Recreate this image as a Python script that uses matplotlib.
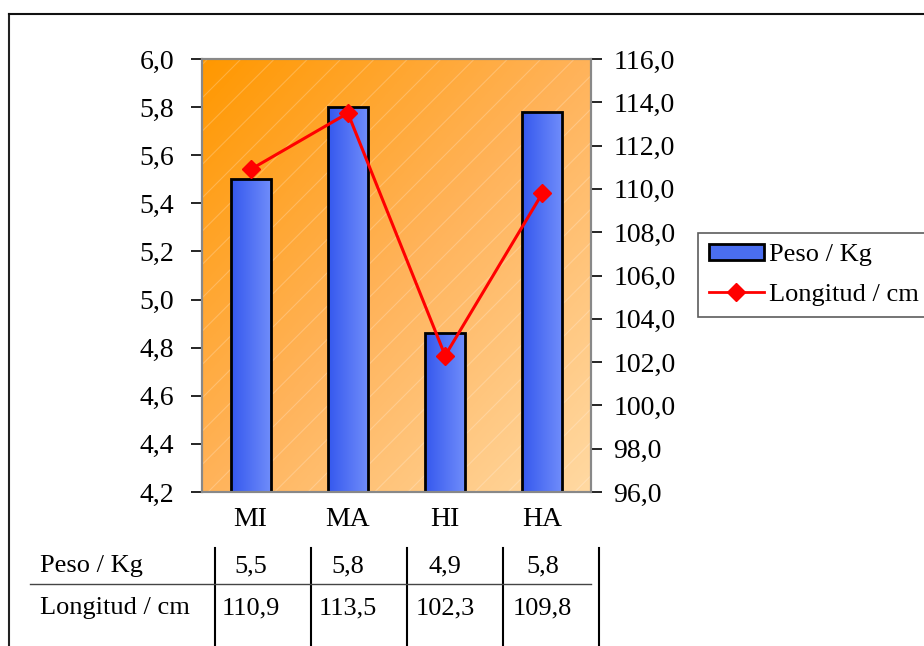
import matplotlib
matplotlib.use("Agg")
import matplotlib.pyplot as plt
import numpy as np
from matplotlib.lines import Line2D
from matplotlib.patches import Rectangle
from matplotlib.colors import LinearSegmentedColormap
from matplotlib.transforms import blended_transform_factory

categories = ["MI", "MA", "HI", "HA"]
peso = [5.5, 5.8, 4.86, 5.78]
longitud = [110.9, 113.5, 102.3, 109.8]
peso_label = "Peso / Kg"
long_label = "Longitud / cm"

plt.rcParams['font.family'] = ['Liberation Serif', 'DejaVu Serif']
plt.rcParams['hatch.linewidth'] = 0.8
FS = 20
FS_SMALL = 19

W, H = 924, 646
fig = plt.figure(figsize=(W / 100, H / 100), dpi=100)

def fx(px):
    return px / W

def fy(py):
    return 1 - py / H

# outer frame (only left and top visible)
fig.add_artist(Line2D([fx(9), fx(9)], [fy(14), 0], color='#222222', lw=1.5))
fig.add_artist(Line2D([fx(9), 1], [fy(14), fy(14)], color='#111111', lw=1.5))

ax = fig.add_axes([fx(202), fy(492), fx(591 - 202), (492 - 59) / H])
ax2 = ax.twinx()

# gradient background, orange top-left -> light peach bottom-right
xs = np.linspace(0, 1, 300)
ys = np.linspace(0, 1, 300)
gx, gy = np.meshgrid(xs, ys)
grad = (gx + gy) / 2
bg = LinearSegmentedColormap.from_list("bg", ["#ff9800", "#ffb35a", "#ffd9a2"])
ax.imshow(grad, extent=[0, 1, 0, 1], transform=ax.transAxes, cmap=bg,
          aspect='auto', zorder=0, origin='upper')
ax.add_patch(Rectangle((0, 0), 1, 1, transform=ax.transAxes, fill=False,
                       hatch='/', edgecolor=(1, 1, 1, 0.22), lw=0, zorder=0.5))

x = np.arange(len(categories))
bars = ax.bar(x, peso, width=0.41, color='#4a6ef0', edgecolor='black',
              linewidth=2, zorder=2)
barcm = LinearSegmentedColormap.from_list("bar", ["#3558ee", "#6f8cfa"])
for b in bars:
    b.set_facecolor('none')
    x0 = b.get_x()
    w, h = b.get_width(), b.get_height()
    im = ax.imshow(np.linspace(0, 1, 100).reshape(1, -1), cmap=barcm, aspect='auto',
                   extent=[x0, x0 + w, 4.2, h], zorder=1.5)
    im.set_clip_path(b)

ax.set_xlim(-0.5, 3.5)
ax.set_ylim(4.2, 6.0)
lt = np.arange(4.2, 6.01, 0.2)
ax.set_yticks(lt)
ax.set_yticklabels([f"{v:.1f}".replace('.', ',') for v in lt])
ax.set_xticks(x)
ax.set_xticklabels(categories)
ax.tick_params(axis='x', length=0, labelsize=FS, pad=11)
ax.tick_params(axis='y', direction='out', length=8, width=1.2, labelsize=FS, pad=12)

ax2.plot(x, longitud, color='#ff0000', lw=2.2, marker='D', markersize=9, zorder=3)
ax2.set_ylim(96, 116)
rt = np.arange(96, 116.1, 2)
ax2.set_yticks(rt)
ax2.set_yticklabels([f"{v:.1f}".replace('.', ',') for v in rt])
ax2.tick_params(axis='y', direction='out', length=8, width=1.2, labelsize=FS, pad=8)

for a in (ax, ax2):
    for s in a.spines.values():
        s.set_color('#888888')
        s.set_linewidth(1.5)

# legend
leg_handles = [Rectangle((0, 0), 1, 1, facecolor='#4a6ef0', edgecolor='black', lw=2),
               Line2D([], [], color='#ff0000', lw=2, marker='D', markersize=9)]
leg = fig.legend(leg_handles, [peso_label, long_label], loc='upper left',
                 bbox_to_anchor=(fx(698), fy(233)), borderaxespad=0,
                 fontsize=FS_SMALL, frameon=True, fancybox=False, edgecolor='#333333',
                 handlelength=2.1, handleheight=0.6, borderpad=0.4,
                 labelspacing=0.65, handletextpad=0.2)
leg.get_frame().set_linewidth(1.2)

# data table
col_lines = [215, 311, 407, 503, 599]
row_y = [566, 608]
tr = blended_transform_factory(ax.transData, fig.transFigure)
for cx in col_lines:
    fig.add_artist(Line2D([fx(cx), fx(cx)], [fy(548), 0], color='black', lw=1.5))
fig.add_artist(Line2D([fx(30), fx(591)], [fy(584), fy(584)], color='#444444', lw=1))
fig.text(fx(40), fy(row_y[0]), peso_label, fontsize=FS_SMALL, va='center', ha='left')
fig.text(fx(40), fy(row_y[1]), long_label, fontsize=FS_SMALL, va='center', ha='left')
for xi, p, l in zip(x, peso, longitud):
    fig.text(xi, fy(row_y[0]), f"{p:.1f}".replace('.', ','), fontsize=FS_SMALL,
             va='center', ha='center', transform=tr)
    fig.text(xi, fy(row_y[1]), f"{l:.1f}".replace('.', ','), fontsize=FS_SMALL,
             va='center', ha='center', transform=tr)

fig.savefig("out.png", dpi=100)
